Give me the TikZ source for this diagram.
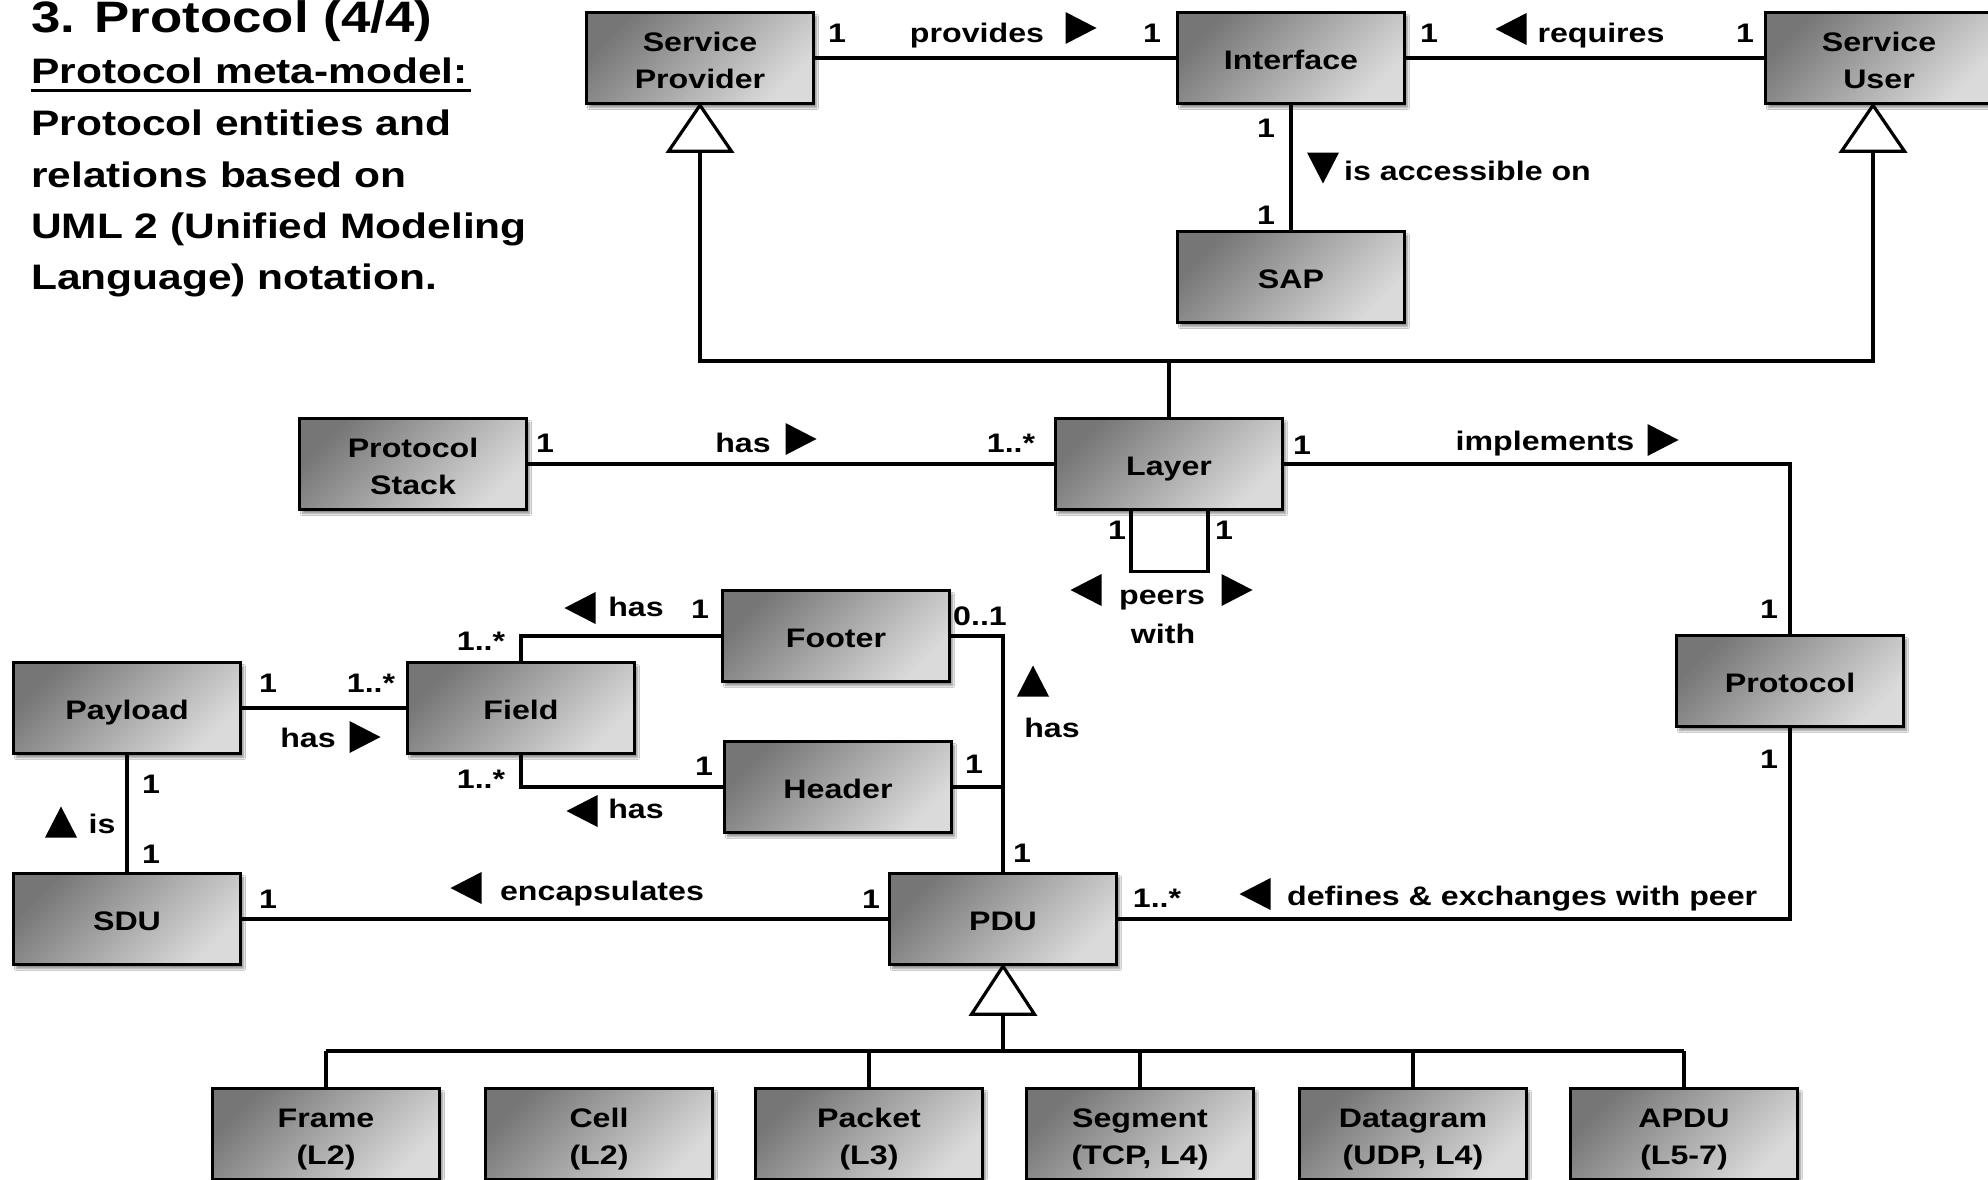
\documentclass[tikz,border=0pt]{standalone}
\usepackage{fontspec}
\setmainfont{Liberation Sans}[FakeStretch=1.2]
\usetikzlibrary{shadows.blur,calc}

\definecolor{boxdark}{HTML}{767676}
\definecolor{boxlight}{HTML}{DADADA}

% two-line class name with fixed line boxes, so every box sets its lines alike
\newcommand\twolines[2]{\raisebox{-5.5pt}[19pt][6pt]{#1}\\\raisebox{-5.5pt}[19pt][6pt]{#2}}

\tikzset{
  entity/.style={draw=black, line width=3.6pt, minimum width=227pt, minimum height=91pt,
    inner sep=0pt, top color=boxdark, bottom color=boxlight, shading angle=45,
    align=center, font=\fontsize{26.8}{37}\selectfont\bfseries,
    blur shadow={shadow xshift=3pt, shadow yshift=-4pt, shadow opacity=45, shadow blur steps=6}},
  entity1/.style={entity, text height=23pt, text depth=0pt},
  link/.style={line width=3.2pt},
  gen/.style={line width=3.2pt, fill=white, line join=miter},
  lab/.style={anchor=base, inner sep=0pt, font=\fontsize{26.8}{32}\selectfont\bfseries},
  labw/.style={lab, anchor=base west},
  pics/arrowhead/.style={code={\fill (-15.5,-16) -- (15.5,0) -- (-15.5,16) -- cycle;}},
}

\begin{document}
\begin{tikzpicture}[x=1pt,y=-1pt]
\fill[white] (0,0) rectangle (1988,1179);
\useasboundingbox (0,0) rectangle (1988,1179);

% heading
\node[anchor=base west, inner sep=0pt, font=\fontsize{44}{50}\selectfont\bfseries] (title) at (31,32) {3. Protocol (4/4)};
\begin{scope}[every node/.style={anchor=base west, inner sep=0pt, font=\fontsize{35.4}{51}\selectfont\bfseries}]
  \node (d1) at (31,83) {Protocol meta-model:};
  \node (d2) at (31,135) {Protocol entities and};
  \node (d3) at (31,187) {relations based on};
  \node (d4) at (31,238) {UML 2 (Unified Modeling};
  \node (d5) at (31,289) {Language) notation.};
\end{scope}
\draw[line width=3.6pt] ($(d1.base west)+(0,7.5)$) -- ($(d1.base east)+(3,7.5)$);

% classes
\node[entity] (sp) at (700,58) {\twolines{Service}{Provider}};
\node[entity1] (if) at (1291,58) {Interface};
\node[entity] (su) at (1879,58) {\twolines{Service}{User}};
\node[entity1] (sap) at (1291,277) {SAP};
\node[entity1] (layer) at (1169,464) {Layer};
\node[entity] (pstack) at (413,464) {\twolines{Protocol}{Stack}};
\node[entity1] (proto) at (1790,681) {Protocol};
\node[entity1] (footer) at (836,636) {Footer};
\node[entity1] (field) at (521,708) {Field};
\node[entity1] (payload) at (127,708) {Payload};
\node[entity1] (header) at (838,787) {Header};
\node[entity1] (sdu) at (127,919) {SDU};
\node[entity1] (pdu) at (1003,919) {PDU};
\node[entity] (frame) at (326,1134) {\twolines{Frame}{(L2)}};
\node[entity] (cell) at (599,1134) {\twolines{Cell}{(L2)}};
\node[entity] (packet) at (869,1134) {\twolines{Packet}{(L3)}};
\node[entity] (segment) at (1140,1134) {\twolines{Segment}{(TCP, L4)}};
\node[entity] (datagram) at (1413,1134) {\twolines{Datagram}{(UDP, L4)}};
\node[entity] (apdu) at (1684,1134) {\twolines{APDU}{(L5-7)}};

% associations
\draw[link] (sp.east) -- (if.west);
\draw[link] (if.east) -- (su.west);
\draw[link] (if.south) -- (sap.north);
\draw[link] (pstack.east) -- (layer.west);
\draw[link] (layer.east) -| (proto.north);
\draw[link] ([xshift=-38pt]layer.south) -- ++(0,60.5) -| ([xshift=39pt]layer.south);
\draw[link] (proto.south) |- (pdu.east);
\draw[link] (sdu.east) -- (pdu.west);
\draw[link] (payload.east) -- (field.west);
\draw[link] (payload.south) -- (sdu.north);
\draw[link] (field.north) |- (footer.west);
\draw[link] (field.south) |- (header.west);
\draw[link] (footer.east) -| (pdu.north);
\draw[link] (header.east) -| (pdu.north);

% generalisation of Layer
\coordinate (gbus) at (0,361);
\coordinate (sutip) at ([xshift=-6pt]su.south);
\draw[link] ($(sp.south)+(0,46)$) |- (gbus -| sutip) -- ($(sutip)+(0,46)$);
\draw[link] (layer.north) -- (layer.north |- gbus);
\draw[gen] (sp.south) -- ++(-31.5,46) -- ++(63,0) -- cycle;
\draw[gen] (sutip) -- ++(-31.5,46) -- ++(63,0) -- cycle;

% generalisation of PDU
\coordinate (sbus) at (0,1051);
\draw[link] ($(pdu.south)+(0,48)$) -- (pdu.south |- sbus);
\draw[link] (frame.north |- sbus) -- (apdu.north |- sbus);
\foreach \n in {frame,packet,segment,datagram,apdu}
  \draw[link] (\n.north) -- (\n.north |- sbus);
\draw[gen] (pdu.south) -- ++(-31.5,48) -- ++(63,0) -- cycle;

% role labels and multiplicities
\node[lab] (m1) at (837,42) {1};
\node[lab] (provides) at (977,42) {provides};
\pic at (1081,28) {arrowhead};
\node[lab] (m2) at (1152,42) {1};
\node[lab] (m3) at (1429,42) {1};
\pic[rotate=180] at (1511,29) {arrowhead};
\node[lab] (requires) at (1601,42) {requires};
\node[lab] (m4) at (1745,42) {1};
\node[lab] (m5) at (1266,137) {1};
\node[lab] (m6) at (1266,224) {1};
\pic[rotate=-90] at (1323,168) {arrowhead};
\node[labw] (access) at (1344,180) {is accessible on};

\node[lab] (m7) at (545,452) {1};
\node[lab] (has1) at (743,452) {has};
\pic at (801,439) {arrowhead};
\node[lab] (m8) at (1011,452) {1..*};
\node[lab] (m9) at (1302,454) {1};
\node[lab] (impl) at (1545,450) {implements};
\pic at (1663,440) {arrowhead};
\node[lab] (m10) at (1117,539) {1};
\node[lab] (m11) at (1224,539) {1};
\pic[rotate=180] at (1086,590) {arrowhead};
\node[lab] (peers) at (1162,604) {peers};
\pic at (1237,590) {arrowhead};
\node[lab] (with) at (1163,643) {with};
\node[lab] (m12) at (1769,618) {1};
\node[lab] (m13) at (1769,768) {1};
\node[lab] (m14) at (1157,907) {1..*};
\pic[rotate=180] at (1255,894) {arrowhead};
\node[labw] (defines) at (1287,905) {defines \& exchanges with peer};

\node[lab] (m15) at (980,625) {0..1};
\pic[rotate=90] at (1033,681) {arrowhead};
\node[lab] (has2) at (1052,737) {has};
\node[lab] (m16) at (974,773) {1};
\node[lab] (m17) at (1022,862) {1};

\node[lab] (m18) at (268,692) {1};
\node[lab] (m19) at (371,692) {1..*};
\node[lab] (has3) at (308,747) {has};
\pic at (365,737) {arrowhead};
\node[lab] (m20) at (481,650) {1..*};
\pic[rotate=180] at (580,608) {arrowhead};
\node[lab] (has4) at (636,616) {has};
\node[lab] (m21) at (700,618) {1};
\node[lab] (m22) at (481,788) {1..*};
\node[lab] (m23) at (704,775) {1};
\pic[rotate=180] at (582,811) {arrowhead};
\node[lab] (has5) at (636,818) {has};

\node[lab] (m24) at (151,793) {1};
\pic[rotate=90] at (61,822) {arrowhead};
\node[lab] (is) at (102,833) {is};
\node[lab] (m25) at (151,863) {1};
\node[lab] (m26) at (268,908) {1};
\pic[rotate=180] at (466,888) {arrowhead};
\node[lab] (encaps) at (602,900) {encapsulates};
\node[lab] (m27) at (871,908) {1};
\end{tikzpicture}
\end{document}
